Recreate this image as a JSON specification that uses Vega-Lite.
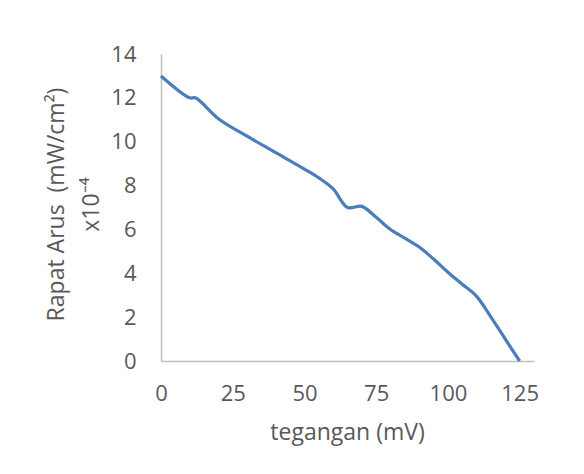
{
  "$schema": "https://vega.github.io/schema/vega-lite/v6.json",
  "autosize": {"type": "none"},
  "padding": {"left": 161, "top": 54, "right": 50, "bottom": 113},
  "width": 373,
  "height": 307,
  "background": "white",
  "config": {"view": {"stroke": null}, "font": "Open Sans"},
  "data": {
    "values": [
      {"tegangan": 0, "rapat": 13.0},
      {"tegangan": 10, "rapat": 12.0},
      {"tegangan": 12, "rapat": 12.0},
      {"tegangan": 20, "rapat": 11.05},
      {"tegangan": 30, "rapat": 10.25},
      {"tegangan": 40, "rapat": 9.5},
      {"tegangan": 50, "rapat": 8.75},
      {"tegangan": 55, "rapat": 8.35},
      {"tegangan": 60, "rapat": 7.85},
      {"tegangan": 65, "rapat": 7.0},
      {"tegangan": 70, "rapat": 7.05},
      {"tegangan": 75, "rapat": 6.55},
      {"tegangan": 80, "rapat": 6.0},
      {"tegangan": 85, "rapat": 5.6},
      {"tegangan": 90, "rapat": 5.2},
      {"tegangan": 95, "rapat": 4.65},
      {"tegangan": 100, "rapat": 4.05},
      {"tegangan": 105, "rapat": 3.5},
      {"tegangan": 110, "rapat": 2.95},
      {"tegangan": 115, "rapat": 2.0},
      {"tegangan": 120, "rapat": 1.0},
      {"tegangan": 125, "rapat": 0.0}
    ]
  },
  "mark": {"type": "line", "interpolate": "catmull-rom", "color": "#4a7ebb", "strokeWidth": 3.2},
  "encoding": {
    "x": {
      "field": "tegangan",
      "type": "quantitative",
      "scale": {"domain": [0, 130], "nice": false, "zero": false},
      "axis": {
        "title": "tegangan (mV)",
        "values": [0, 25, 50, 75, 100, 125],
        "grid": false,
        "ticks": false,
        "tickSize": 0,
        "domainColor": "#bfbfbf",
        "domainWidth": 1.5,
        "labelFont": "Open Sans",
        "labelFontSize": 22,
        "labelColor": "#595959",
        "labelBaseline": "alphabetic",
        "labelPadding": 39,
        "labelFlush": false,
        "labelOverlap": false,
        "titleFont": "Open Sans",
        "titleFontSize": 23,
        "titleFontWeight": "normal",
        "titleColor": "#595959",
        "titleX": 186,
        "titleY": 78,
        "titleAlign": "center",
        "titleBaseline": "alphabetic"
      }
    },
    "y": {
      "field": "rapat",
      "type": "quantitative",
      "scale": {"domain": [0, 14], "nice": false},
      "axis": {
        "title": ["Rapat Arus \u00a0(mW/cm²)", "x10⁻⁴"],
        "values": [0, 2, 4, 6, 8, 10, 12, 14],
        "grid": false,
        "ticks": false,
        "tickSize": 0,
        "domainColor": "#bfbfbf",
        "domainWidth": 1.5,
        "labelFont": "Open Sans",
        "labelFontSize": 22,
        "labelColor": "#595959",
        "labelPadding": 25,
        "labelFlush": false,
        "labelOverlap": false,
        "titleFont": "Open Sans",
        "titleFontSize": 23,
        "titleFontWeight": "normal",
        "titleColor": "#595959",
        "titleAngle": -90,
        "titleX": -98,
        "titleY": 150,
        "titleAlign": "center",
        "titleBaseline": "alphabetic",
        "titleLineHeight": 35
      }
    }
  }
}
